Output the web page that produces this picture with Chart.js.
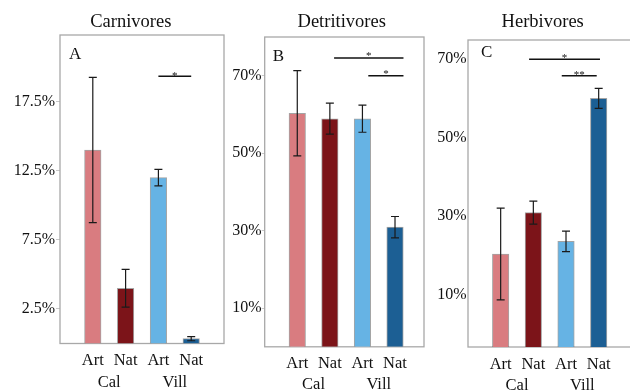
<!DOCTYPE html>
<html><head><meta charset="utf-8">
<script src="https://cdn.jsdelivr.net/npm/chart.js@4.4.1/dist/chart.umd.min.js"></script>
<style>
html,body{margin:0;padding:0;background:#fff;overflow:hidden;width:630px;height:390px;}
canvas{position:absolute;top:0;}
</style></head><body>
<canvas id="cA" width="226" height="390" style="left:0px"></canvas>
<canvas id="cB" width="204" height="390" style="left:226px"></canvas>
<canvas id="cC" width="204" height="390" style="left:430px"></canvas>
<script>
// ---- data ----
const titles = ['Carnivores', 'Detritivores', 'Herbivores'];
const panelLetters = ['A', 'B', 'C'];
const barLabels = ['Art', 'Nat', 'Art', 'Nat'];
const groupLabels = ['Cal', 'Vill'];
const barPositions = [1, 2, 3, 4];
const groupPositions = [1.5, 3.5];

const carnivoreMeans = [14.0, 4.0, 12.0, 0.35];
const carnivoreErrors = [5.25, 1.37, 0.6, 0.15];
const detritivoreMeans = [60.3, 58.9, 58.9, 30.9];
const detritivoreErrors = [11.0, 4.0, 3.5, 2.75];
const herbivoreMeans = [20.4, 30.9, 23.6, 59.9];
const herbivoreErrors = [11.65, 2.9, 2.6, 2.55];

const carnivoreTicks = [2.5, 7.5, 12.5, 17.5];
const detritivoreTicks = [10, 30, 50, 70];
const herbivoreTicks = [10, 30, 50, 70];

const carnivoreRange = [0, 22.32];
const detritivoreRange = [0, 80];
const herbivoreRange = [-3.2, 74.7];

const carnivoreSig = [{from: 3, to: 4, y: 19.33, label: '*'}];
const detritivoreSig = [{from: 2.13, to: 4.26, y: 74.6, label: '*'}, {from: 3.18, to: 4.26, y: 70.0, label: '*'}];
const herbivoreSig = [{from: 1.87, to: 4.04, y: 69.8, label: '*'}, {from: 2.87, to: 3.94, y: 65.6, label: '**'}];

// ---- style ----
const barColors = ['#d97c80', '#7c1419', '#66b3e4', '#1c5f94'];
const SERIF = '"Liberation Serif", "Times New Roman", serif';

const panels = [
  {id: 'cA', title: titles[0], letter: panelLetters[0], means: carnivoreMeans, errors: carnivoreErrors,
   ticks: carnivoreTicks, range: carnivoreRange, sig: carnivoreSig, decimals: 1,
   L: {width: 226, chartLeft: 60, chartRight: 224, top: 35, bottom: 343.5, titleCenter: 130.8, xMax: 5,
       tickLen: 4, tickPad: 1, xPad: 7.5, xH: 24, x2Pad: 5.2, letterDx: 9, letterDy: 24.3, starDy: 2.5}},
  {id: 'cB', title: titles[1], letter: panelLetters[1], means: detritivoreMeans, errors: detritivoreErrors,
   ticks: detritivoreTicks, range: detritivoreRange, sig: detritivoreSig, decimals: 0,
   L: {width: 204, chartLeft: 38.7, chartRight: 198, top: 37, bottom: 346.8, titleCenter: 115.7, xMax: 4.89,
       tickLen: 3, tickPad: 0, xPad: 7.2, xH: 23, x2Pad: 4.5, letterDx: 8, letterDy: 23.6, starDy: 1.5}},
  {id: 'cC', title: titles[2], letter: panelLetters[2], means: herbivoreMeans, errors: herbivoreErrors,
   ticks: herbivoreTicks, range: herbivoreRange, sig: herbivoreSig, decimals: 0,
   L: {width: 204, chartLeft: 38, chartRight: 202, top: 40, bottom: 347, titleCenter: 112.7, xMax: 5.02,
       tickLen: 0, tickPad: 1.5, xPad: 8, xH: 23, x2Pad: 6, letterDx: 13, letterDy: 17.3, starDy: 2}}
];

function makeChart(p) {
  const L = p.L;
  const pr = L.width - L.chartRight;
  const titleTop = 10.6, titleLH = 22.2;
  const x2H = 390 - L.bottom - L.xH;

  const decor = {
    id: 'decor' + p.id,
    afterLayout(chart) {
      const tb = chart.titleBlock;
      if (tb) { tb.left = L.titleCenter - 70; tb.right = L.titleCenter + 70; tb.width = 140; }
    },
    beforeDatasetsDraw(chart) {
      const ctx = chart.ctx, ca = chart.chartArea;
      ctx.save();
      ctx.strokeStyle = '#a8a8a8';
      ctx.lineWidth = 1.3;
      ctx.strokeRect(ca.left, ca.top, ca.right - ca.left, ca.bottom - ca.top);
      ctx.restore();
    },
    afterDatasetsDraw(chart) {
      const ctx = chart.ctx, ca = chart.chartArea;
      const xs = chart.scales.x, ys = chart.scales.y;
      const meta = chart.getDatasetMeta(0);
      ctx.save();
      ctx.strokeStyle = '#1a1a1a';
      ctx.lineWidth = 1.2;
      meta.data.forEach((bar, i) => {
        const x = bar.x;
        const yt = ys.getPixelForValue(p.means[i] + p.errors[i]);
        const yb = ys.getPixelForValue(p.means[i] - p.errors[i]);
        ctx.beginPath();
        ctx.moveTo(x, yt); ctx.lineTo(x, yb);
        ctx.moveTo(x - 4, yt); ctx.lineTo(x + 4, yt);
        ctx.moveTo(x - 4, yb); ctx.lineTo(x + 4, yb);
        ctx.stroke();
      });
      ctx.strokeStyle = '#111';
      ctx.fillStyle = '#111';
      ctx.lineWidth = 1.5;
      ctx.font = '11px ' + SERIF;
      ctx.textAlign = 'center';
      ctx.textBaseline = 'alphabetic';
      p.sig.forEach(s => {
        const x1 = xs.getPixelForValue(s.from), x2 = xs.getPixelForValue(s.to);
        const y = ys.getPixelForValue(s.y);
        ctx.beginPath(); ctx.moveTo(x1, y); ctx.lineTo(x2, y); ctx.stroke();
        ctx.fillText(s.label, (x1 + x2) / 2, y + L.starDy);
      });
      ctx.font = '17px ' + SERIF;
      ctx.textAlign = 'left';
      ctx.fillText(p.letter, ca.left + L.letterDx, ca.top + L.letterDy);
      ctx.restore();
    }
  };

  new Chart(document.getElementById(p.id), {
    type: 'bar',
    data: {
      datasets: [{
        data: barPositions.map((x, i) => ({x: x, y: p.means[i]})),
        backgroundColor: barColors,
        borderColor: 'rgba(90,90,90,0.55)',
        borderWidth: 1,
        barThickness: 16.5,
        base: p.range[0],
        xAxisID: 'x',
        yAxisID: 'y'
      }]
    },
    options: {
      responsive: false,
      animation: false,
      devicePixelRatio: 1,
      layout: {padding: {left: 0, right: pr, top: 0, bottom: 0}},
      plugins: {
        legend: {display: false},
        tooltip: {enabled: false},
        title: {
          display: true, text: p.title, color: '#111',
          font: {family: SERIF, size: 18.5, weight: 'normal', lineHeight: 1.2},
          padding: {top: titleTop, bottom: L.top - titleTop - titleLH}
        }
      },
      scales: {
        x: {
          type: 'linear', position: 'bottom', min: 0, max: L.xMax, weight: 0, offset: false,
          grid: {display: false, drawTicks: false, offset: false}, border: {display: false},
          afterBuildTicks: s => { s.ticks = barPositions.map(v => ({value: v})); },
          afterFit: s => { s.height = L.xH; },
          ticks: {autoSkip: false, maxRotation: 0, padding: L.xPad, color: '#111',
                  font: {family: SERIF, size: 16.5}, callback: (v, i) => barLabels[i]}
        },
        x2: {
          type: 'linear', position: 'bottom', min: 0, max: L.xMax, weight: 1, offset: false,
          grid: {display: false, drawTicks: false, offset: false}, border: {display: false},
          afterBuildTicks: s => { s.ticks = groupPositions.map(v => ({value: v})); },
          afterFit: s => { s.height = x2H; },
          ticks: {autoSkip: false, maxRotation: 0, padding: L.x2Pad, color: '#111',
                  font: {family: SERIF, size: 16.5}, callback: (v, i) => groupLabels[i]}
        },
        y: {
          type: 'linear', position: 'left', min: p.range[0], max: p.range[1],
          grid: {display: true, drawOnChartArea: false, drawTicks: L.tickLen > 0, tickLength: L.tickLen, color: '#c8c8c8'},
          border: {display: false},
          afterBuildTicks: s => { s.ticks = p.ticks.map(v => ({value: v})); },
          afterFit: s => { s.width = L.chartLeft; },
          ticks: {autoSkip: false, padding: L.tickPad, color: '#111',
                  font: {family: SERIF, size: 16}, callback: v => v.toFixed(p.decimals) + '%'}
        }
      }
    },
    plugins: [decor]
  });
}

panels.forEach(makeChart);
</script>
</body></html>
